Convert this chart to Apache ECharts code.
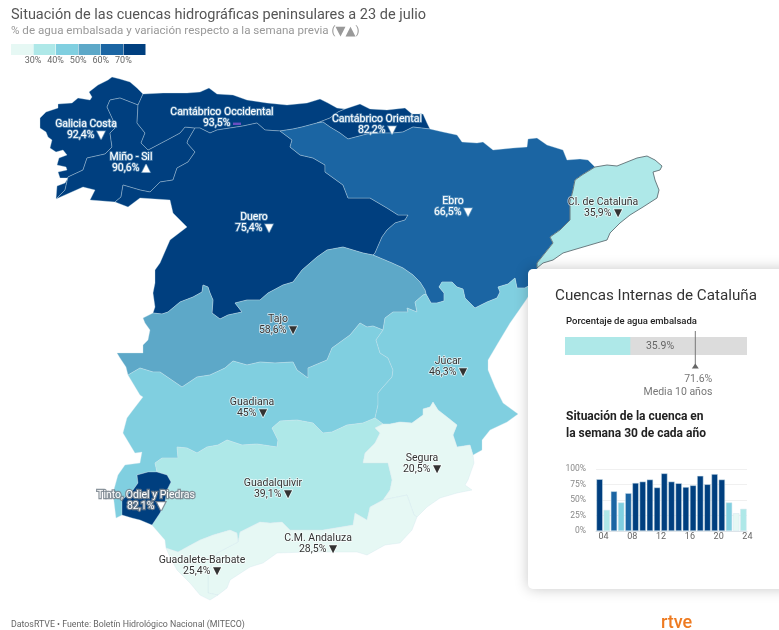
<!DOCTYPE html>
<html><head><meta charset="utf-8">
<style>html,body{margin:0;padding:0;background:#fff}#c{width:779px;height:630px}</style>
<script src="https://cdn.jsdelivr.net/npm/echarts@6/dist/echarts.min.js"></script>
</head><body><div id="c"></div>
<script>
// ---- chart values ----
const regionNames = ['Galicia Costa','Miño - Sil','Cantábrico Occidental','Cantábrico Oriental','Duero','Ebro','Tajo','Guadiana','Júcar','Guadalquivir','Segura','C.M. Andaluza','Guadalete-Barbate','Tinto, Odiel y Piedras','Cl. de Cataluña'];
const regionValues = [92.4,90.6,93.5,82.2,75.4,66.5,58.6,45,46.3,39.1,20.5,28.5,25.4,82.1,35.9];
const regionTrend = ['down','up','same','down','down','down','down','down','down','down','down','down','down','down','down'];
const legendTicks = ['30%','40%','50%','60%','70%'];
const legendBreaks = [30,40,50,60,70];
const legendColors = ['#e6f8f4','#aee8e8','#80cfe0','#5da8c8','#1b65a3','#003f7f'];
const panelStored = [35.9];
const panelFull = [100];
const panelMean = [71.6];
const weekYears = ['04','05','06','07','08','09','10','11','12','13','14','15','16','17','18','19','20','21','22','23','24'];
const weekValues = [83.5,34,64,46,61,77.5,79.7,83,70.2,92.9,79.7,77,70.9,73.6,89,75.3,91.8,83,46,28.6,35.7];
const weekTicks = ['0%','25%','50%','75%','100%'];

// ---- basin outlines (shared boundaries, picture coordinates) ----
const coastGalicia=[[56,199],[57,186],[65,183],[68,178],[60,178],[58,172],[67,170],[66,167],[57,165],[59,158],[67,155],[63,150],[56,152],[50,148],[52,140],[48,137],[46,132],[40,128],[40,118],[46,112],[58,108],[58,104],[72,103],[78,98],[90,100],[92,97],[89,92],[98,85],[108,80],[112,77],[120,79],[130,82],[137,88],[143,94]];
const bGaliciaCant=[[138,105],[143,94]];
const bGaliciaMino=[[56,199],[65,190],[68,177],[83,170],[87,158],[105,154],[112,147],[110,133],[115,128],[113,120],[107,107],[110,100],[120,98],[138,105]];
const bMinoCant=[[138,105],[137,123],[145,133],[141,143],[148,150],[167,140],[180,133],[185,127],[195,128]];
const bDueroMino=[[195,128],[188,140],[187,143],[195,152],[188,162],[177,168],[173,180],[160,182],[150,192],[140,190],[123,185],[121,197],[115,202]];
const coastMino=[[56,199],[83,187],[95,190],[90,200],[115,202]];
const coastOcc=[[143,94],[163,93],[187,93],[200,92],[209,88],[217,94],[233,95],[247,100],[267,103],[287,105],[307,103],[320,99],[328,103],[337,108],[345,109]];
const bOccOr=[[317,123],[330,118],[338,112],[345,109]];
const bEbroOcc=[[280,131],[293,129],[302,127],[317,123]];
const bEbroOr=[[317,123],[323,122],[330,127],[340,133],[348,139],[367,134],[380,133],[393,133],[403,132],[413,127],[430,129]];
const bDueroOcc=[[280,131],[265,130],[257,123],[243,126],[230,128],[217,130],[210,133],[200,128],[195,128]];
const coastOr=[[345,109],[360,104],[370,109],[387,110],[405,108],[412,114],[423,114],[427,123],[430,129]];
const coastEbro=[[430,129],[443,132],[457,135],[462,142],[477,143],[483,142],[493,150],[513,148],[527,147],[528,139],[537,138],[547,145],[563,150],[567,160],[580,159],[588,160],[595,167]];
const bCatEbro=[[595,167],[582,175],[575,180],[573,190],[570,202],[570,220],[560,230],[550,237],[553,243],[545,253],[537,263],[537,268]];
const coastCat=[[595,167],[607,165],[617,166],[627,162],[637,158],[647,156],[655,160],[662,166],[660,170],[653,172],[655,180],[659,190],[657,198],[643,207],[630,215],[620,223],[610,233],[607,240],[590,245],[573,250],[563,253],[553,260],[543,263],[537,268]];
const bEbroJucar=[[426,294],[431,303],[437,303],[444,301],[444,293],[439,287],[442,282],[452,282],[457,287],[463,289],[465,298],[475,308],[487,302],[497,298],[500,292],[498,287],[508,284],[515,278],[517,288],[525,288],[530,285],[540,278]];
const bTajoEbro=[[373,255],[392,263],[403,268],[413,275],[420,282],[425,290],[426,294]];
const bDueroEbro=[[280,131],[292,140],[290,147],[300,155],[313,158],[325,165],[325,172],[343,185],[348,198],[370,198],[387,208],[398,215],[408,215],[405,220],[395,223],[387,230],[382,237],[375,253],[373,255]];
const bTajoJucar=[[426,294],[423,295],[415,302],[417,312],[407,308],[408,312],[393,312],[385,318],[383,330]];
const bDueroTajo=[[153,313],[162,314],[168,312],[180,302],[193,297],[202,292],[203,285],[208,287],[210,293],[213,300],[212,313],[220,319],[228,315],[242,312],[235,303],[247,300],[260,300],[268,293],[283,285],[293,282],[302,270],[317,257],[327,250],[343,247],[363,253],[373,255]];
const coastDuero=[[115,202],[128,207],[140,198],[170,200],[173,213],[187,227],[170,240],[160,263],[155,270],[155,283],[153,293],[155,307],[153,313]];
const coastTajo=[[128,375],[126,367],[120,358],[117,353],[130,353],[143,353],[143,345],[148,340],[150,330],[145,323],[143,318],[153,313]];
const bTajoGuadiana=[[128,375],[140,368],[153,372],[160,372],[182,387],[197,377],[210,375],[225,368],[233,361],[247,365],[260,362],[275,363],[293,362],[297,370],[308,378],[308,368],[327,360],[332,348],[350,335],[360,323],[367,327],[373,326],[383,330]];
const bGuadianaJucar=[[383,330],[376,340],[380,353],[388,358],[393,370],[392,377],[383,387],[378,393],[378,405],[375,418]];
const bJucarGq=[[383,424],[375,418]];
const bGuadianaGq=[[375,418],[363,423],[347,425],[332,432],[323,433],[313,423],[297,420],[280,421],[272,428],[278,440],[277,447],[257,444],[242,445],[227,440],[218,445],[207,447],[197,453],[187,448],[177,447],[178,458],[162,458],[155,463],[157,472]];
const bGuadianaTinto=[[157,472],[148,472],[137,475],[138,483],[133,490],[122,500],[122,515]];
const coastGuadiana=[[122,515],[116,518],[113,493],[118,475],[125,465],[140,463],[142,452],[135,453],[123,433],[127,418],[133,410],[143,397],[140,395],[128,375]];
const bTintoGq=[[157,472],[167,475],[171,482],[167,490],[165,502],[160,513],[152,525]];
const coastTinto=[[152,525],[140,520],[132,518],[122,515]];
const coastGq=[[166,548],[165,540],[152,525]];
const coastJucar=[[540,278],[526,300],[517,313],[510,323],[498,343],[488,360],[488,370],[495,387],[503,403],[518,414],[507,422],[490,430],[482,440],[482,450],[473,455]];
const bJucarSegura=[[473,455],[470,445],[457,447],[453,435],[457,425],[447,417],[438,410],[433,402],[430,407],[423,409],[423,415],[412,423],[400,422],[390,424],[383,424]];
const bSeguraGq=[[383,424],[375,428],[380,433],[375,443],[365,453],[363,463],[373,463],[388,463],[392,480],[390,490],[383,500]];
const coastSegura=[[473,455],[474,463],[468,480],[465,485],[472,490],[457,493],[440,498],[427,507],[417,517]];
const bSeguraAnd=[[383,500],[407,495],[414,515],[417,517]];
const bGqAnd=[[238,542],[240,532],[260,522],[270,523],[282,522],[290,530],[310,530],[323,530],[353,525],[355,513],[367,520],[370,507],[383,500]];
const coastAnd=[[417,517],[412,530],[400,543],[385,545],[367,555],[357,552],[307,552],[277,553],[263,563],[250,567],[230,580],[227,588],[218,595]];
const bGqGuadalete=[[166,548],[178,552],[187,547],[200,540],[213,535],[230,530],[237,533],[238,542]];
const bGuadaleteAnd=[[238,542],[217,553],[208,573],[208,593],[218,595]];
const coastGuadalete=[[218,595],[210,600],[200,595],[190,583],[177,570],[170,557],[166,548]];
const r=a=>a.slice().reverse();
const regionOutlines=[
 [coastGalicia,r(bGaliciaCant),r(bGaliciaMino)],
 [bGaliciaMino,bMinoCant,bDueroMino,r(coastMino)],
 [coastOcc,r(bOccOr),r(bEbroOcc),bDueroOcc,r(bMinoCant),bGaliciaCant],
 [coastOr,r(bEbroOr),bOccOr],
 [coastDuero,bDueroTajo,r(bDueroEbro),bDueroOcc,bDueroMino],
 [bEbroOcc,bEbroOr,coastEbro,bCatEbro,r(bEbroJucar),r(bTajoEbro),r(bDueroEbro)],
 [bDueroTajo,bTajoEbro,bTajoJucar,r(bTajoGuadiana),coastTajo],
 [bTajoGuadiana,bGuadianaJucar,bGuadianaGq,bGuadianaTinto,coastGuadiana],
 [coastJucar,bJucarSegura,bJucarGq,r(bGuadianaJucar),r(bTajoJucar),bEbroJucar],
 [r(bGuadianaGq),r(bJucarGq),bSeguraGq,r(bGqAnd),r(bGqGuadalete),coastGq,r(bTintoGq)],
 [r(bJucarSegura),coastSegura,r(bSeguraAnd),r(bSeguraGq)],
 [bGqAnd,bSeguraAnd,coastAnd,r(bGuadaleteAnd)],
 [bGqGuadalete,bGuadaleteAnd,coastGuadalete],
 [r(bGuadianaTinto),bTintoGq,coastTinto],
 [coastCat,r(bCatEbro)]
];
const labelSpots=[[86,130],[131,163],[222,118],[377,125],[254,223],[453,207],[278,325],[252,408],[448,367],[273,489],[422,464],[318,544],[202,566],[146,501],[603,208]];

const flip=p=>[p[0],630-p[1]];
const geoJson={type:'FeatureCollection',features:regionNames.map((n,i)=>{
  const ring=[];
  regionOutlines[i].forEach(seg=>seg.forEach(p=>{const q=ring[ring.length-1];if(!q||q[0]!==p[0]||q[1]!==p[1])ring.push(p);}));
  ring.push(ring[0]);
  return {type:'Feature',properties:{name:n,cp:flip(labelSpots[i])},geometry:{type:'Polygon',coordinates:[ring.map(flip)]}};
})};
echarts.registerMap('cuencas',geoJson);

const pieces=legendColors.map((c,i)=>{
  const o={color:c};
  if(i>0)o.min=legendBreaks[i-1];
  if(i<legendBreaks.length)o.max=legendBreaks[i];
  return o;
});
const FONT='Roboto';
const sym={down:'{t|▼}',up:'{t|▲}',same:'{d|▬}'};
const isLight=v=>v>=60;
const mapData=regionNames.map((n,i)=>{
  const v=regionValues[i], light=isLight(v), tinto=n.startsWith('Tinto');
  return {name:n,value:v,label:{
    color:light?'#fff':'#333',
    textBorderColor:tinto?'rgba(120,130,140,.85)':(light?'rgba(150,190,215,.55)':'rgba(255,255,255,.75)'),
    textBorderWidth:tinto?2.5:1.5
  },itemStyle:n.startsWith('Cl.')?{borderColor:'#5f6e74',borderWidth:.9}:undefined};
});

const chart=echarts.init(document.getElementById('c'),null,{renderer:'canvas'});
const txt=(x,y,text,font,fill,extra)=>({type:'text',z:7,x,y,style:Object.assign({text,font:font+' '+FONT,fill,textVerticalAlign:'middle'},extra||{})});
chart.setOption({
  animation:false,
  backgroundColor:'#fff',
  title:[{text:'Situación de las cuencas hidrográficas peninsulares a 23 de julio',left:11,top:8,padding:0,
    textStyle:{fontFamily:FONT,fontSize:14.5,fontWeight:'normal',color:'#555'}},
    {text:'% de agua embalsada y variación respecto a la semana previa ({t|▼▲})',left:11,top:25,padding:0,
    textStyle:{fontFamily:FONT,fontSize:11.6,fontWeight:'normal',color:'#999',rich:{t:{fontFamily:'DejaVu Sans',fontSize:13,color:'#999'}}}}],
  visualMap:[{type:'piecewise',seriesIndex:0,pieces:pieces,orient:'horizontal',left:11,top:44,padding:0,itemWidth:22,itemHeight:11,itemGap:0.5,
    showLabel:false,selectedMode:false,hoverLink:false,itemSymbol:'rect',text:null},
    {type:'piecewise',seriesIndex:3,pieces:pieces,show:false,selectedMode:false,hoverLink:false}],
  graphic:[
    {type:'rect',z:5,shape:{x:528,y:269,width:270,height:320,r:5},style:{fill:'#fff',shadowBlur:14,shadowColor:'rgba(0,0,0,.22)'}},
    ...legendTicks.map((t,i)=>txt(33+i*22.6,61,t,'9px','#666',{textAlign:'center'})),
    txt(555,296,'Cuencas Internas de Cataluña','15.2px','#333'),
    txt(566,322,'Porcentaje de agua embalsada','500 9.5px','#222'),
    txt(566,417,'Situación de la cuenca en','bold 12px','#222'),
    txt(566,434,'la semana 30 de cada año','bold 12px','#222'),
    txt(11,625,'DatosRTVE • Fuente: Boletín Hidrológico Nacional (MITECO)','8.8px','#666'),
    txt(661,623,'rtve','500 18px','#ee7b21')
  ],
  grid:[
    {left:565,width:182,top:337,height:18,z:8},
    {left:565,width:182,top:331,height:35,z:8},
    {left:596,width:151,top:469,height:62,z:8}
  ],
  xAxis:[
    {gridIndex:0,type:'value',min:0,max:100,show:false,z:8},
    {gridIndex:1,type:'value',min:0,max:100,show:false,z:8},
    {gridIndex:2,type:'category',data:weekYears,z:8,
      axisLine:{lineStyle:{color:'#dde3e8'}},axisTick:{show:false},
      axisLabel:{interval:3,fontFamily:FONT,fontSize:9,color:'#666',margin:1,padding:[0,0,0,8],hideOverlap:false}}
  ],
  yAxis:[
    {gridIndex:0,type:'category',data:['c'],show:false,z:8},
    {gridIndex:1,type:'value',min:0,max:1,show:false,z:8},
    {gridIndex:2,type:'value',min:0,max:100,interval:25,z:8,
      axisLine:{show:false},axisTick:{show:false},splitLine:{lineStyle:{color:'#f0f0f0'}},
      axisLabel:{fontFamily:FONT,fontSize:8.5,color:'#888',margin:10,padding:[0,0,8,0],formatter:v=>weekTicks[v/25]}}
  ],
  series:[
    {type:'map',map:'cuencas',z:1,silent:true,aspectScale:1,roam:false,
      boundingCoords:[[0,630],[779,0]],left:0,top:0,width:779,height:630,
      data:mapData,
      itemStyle:{borderColor:'rgba(205,228,238,.55)',borderWidth:.6},
      label:{show:true,fontFamily:FONT,fontSize:10.5,lineHeight:10.5,align:'center',
        formatter:p=>{
          const i=regionNames.indexOf(p.name);
          return p.name+'\n'+String(p.value).replace('.',',')+'% '+sym[regionTrend[i]];
        },
        rich:{d:{color:'#6a4fc0',fontSize:8,textBorderWidth:0},t:{fontFamily:'DejaVu Sans',fontSize:10.5}}},
      emphasis:{disabled:true},select:{disabled:true}},
    {type:'bar',z:9,xAxisIndex:0,yAxisIndex:0,data:panelFull,barWidth:18,silent:true,itemStyle:{color:'#dcdcdc'},
      label:{show:true,position:'inside',offset:[4,0],fontFamily:FONT,fontSize:10.5,color:'#666',formatter:()=>panelStored[0].toFixed(1)+'%'}},
    {type:'bar',z:9,xAxisIndex:0,yAxisIndex:0,data:panelStored,barWidth:18,barGap:'-100%',silent:true,itemStyle:{color:'#aee8e8'}},
    {type:'bar',z:9,xAxisIndex:2,yAxisIndex:2,data:weekValues,barCategoryGap:'12%',silent:true,itemStyle:{borderColor:'#d5e6ee',borderWidth:.5}},
    {type:'line',z:9,xAxisIndex:1,yAxisIndex:1,silent:true,lineStyle:{color:'#777',width:1},
      data:[{value:[panelMean[0],0],symbol:'triangle',symbolSize:[7,5],itemStyle:{color:'#666'},
        label:{show:true,position:'bottom',align:'right',offset:[17,-1],fontFamily:FONT,fontSize:10.5,lineHeight:13,color:'#777',
          formatter:()=>panelMean[0].toFixed(1)+'%\nMedia 10 años'}},
        {value:[panelMean[0],1],symbol:'none'}]}
  ]
});
</script></body></html>
